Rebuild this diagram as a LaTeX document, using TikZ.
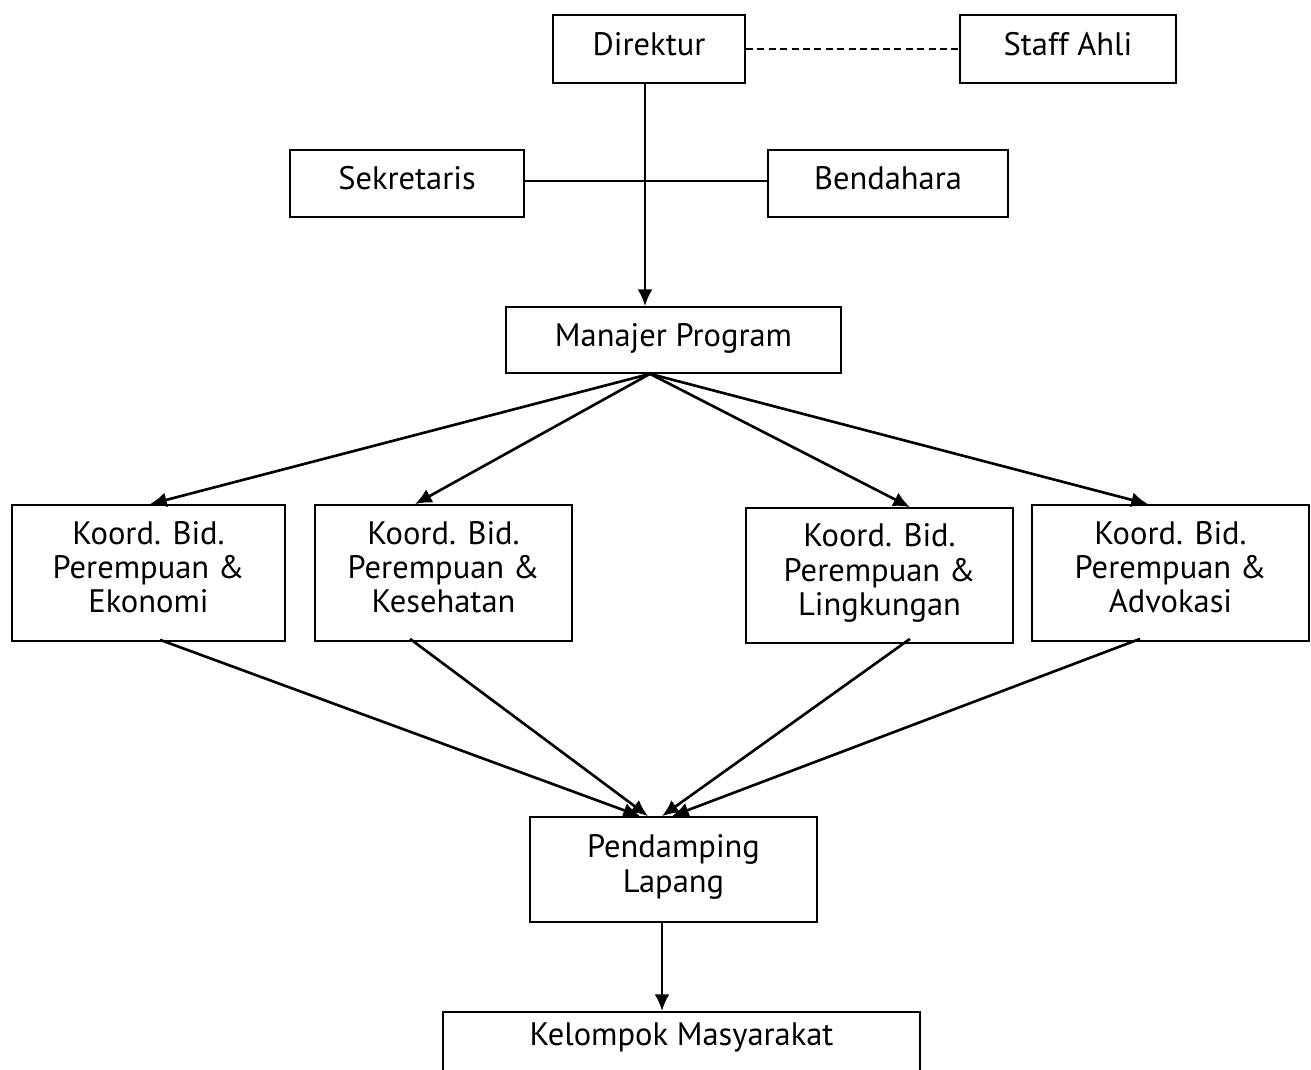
\documentclass[tikz,border=0pt]{standalone}
\usepackage{fontspec}
\setmainfont{PT Sans}
\usetikzlibrary{arrows.meta}
\newcommand{\lowpad}{\rule[-0.24cm]{0pt}{0pt}}

\begin{document}
\begin{tikzpicture}[x=0.02cm,y=-0.02cm,
    box/.style={draw, line width=1pt, align=center, inner sep=0pt,
      font=\fontsize{18.5}{19.5}\selectfont},
    onebox/.style={box, text height=0.47cm, text depth=0.22cm},
    arr/.style={-{Latex[length=9.5pt,width=8.5pt]}, line width=1.5pt}]
  \useasboundingbox (0,0) rectangle (1311,1070);
  \node[onebox, minimum width=3.84cm, minimum height=1.36cm] (dir) at (649,49) {Direktur};
  \node[onebox, minimum width=4.32cm, minimum height=1.36cm] (staff) at (1068,49) {Staff Ahli};
  \node[onebox, minimum width=4.68cm, minimum height=1.34cm] (sek) at (407,183.5) {Sekretaris};
  \node[onebox, minimum width=4.8cm, minimum height=1.34cm] (ben) at (888,183.5) {Bendahara};
  \node[onebox, minimum width=6.7cm, minimum height=1.32cm] (mp) at (673.5,340) {Manajer Program};
  \node[box, minimum width=5.46cm, minimum height=2.72cm] (eko) at (148.5,573) {Koord. Bid.\\Perempuan \&\\Ekonomi\lowpad};
  \node[box, minimum width=5.14cm, minimum height=2.72cm] (kes) at (443.5,573) {Koord. Bid.\\Perempuan \&\\Kesehatan\lowpad};
  \node[box, minimum width=5.34cm, minimum height=2.7cm] (ling) at (879.5,575.5) {Koord. Bid.\\Perempuan \&\\Lingkungan\lowpad};
  \node[box, minimum width=5.54cm, minimum height=2.72cm] (adv) at (1170.5,573) {Koord. Bid.\\Perempuan \&\\Advokasi\lowpad};
  \node[box, minimum width=5.74cm, minimum height=2.1cm] (pl) at (673.5,869.5) {Pendamping\\Lapang\lowpad};
  \node[box, anchor=north, minimum width=9.54cm, inner ysep=0.2cm, text height=0.47cm, text depth=1.6cm] (km) at (681.5,1011) {Kelompok Masyarakat};

  \draw[line width=1.2pt, dash pattern=on 4pt off 2.5pt] (dir.east) -- (staff.west);
  \draw[line width=0.9pt] ([yshift=0.05cm]sek.east) -- ([yshift=0.05cm]ben.west);
  \draw[arr] ([xshift=-0.08cm]dir.south) -- ([xshift=-0.08cm]dir.south |- mp.north);
  \draw[arr] ([xshift=-0.47cm]mp.south) -- ([xshift=0.03cm]eko.north);
  \draw[arr] ([xshift=-0.47cm]mp.south) -- ([xshift=-0.57cm]kes.north);
  \draw[arr] ([xshift=-0.47cm]mp.south) -- ([xshift=0.61cm]ling.north);
  \draw[arr] ([xshift=-0.47cm]mp.south) -- ([xshift=-0.45cm]adv.north);
  \draw[arr] ([xshift=0.23cm,yshift=0.04cm]eko.south) -- ([xshift=-0.67cm]pl.north);
  \draw[arr] ([xshift=-0.67cm,yshift=0.06cm]kes.south) -- ([xshift=-0.51cm]pl.north);
  \draw[arr] ([xshift=0.61cm,yshift=0.1cm]ling.south) -- ([xshift=-0.23cm]pl.north);
  \draw[arr] ([xshift=-0.61cm,yshift=0.06cm]adv.south) -- ([xshift=-0.03cm]pl.north);
  \draw[arr] ([xshift=-0.23cm]pl.south) -- ([xshift=-0.23cm]pl.south |- km.north);
\end{tikzpicture}
\end{document}
